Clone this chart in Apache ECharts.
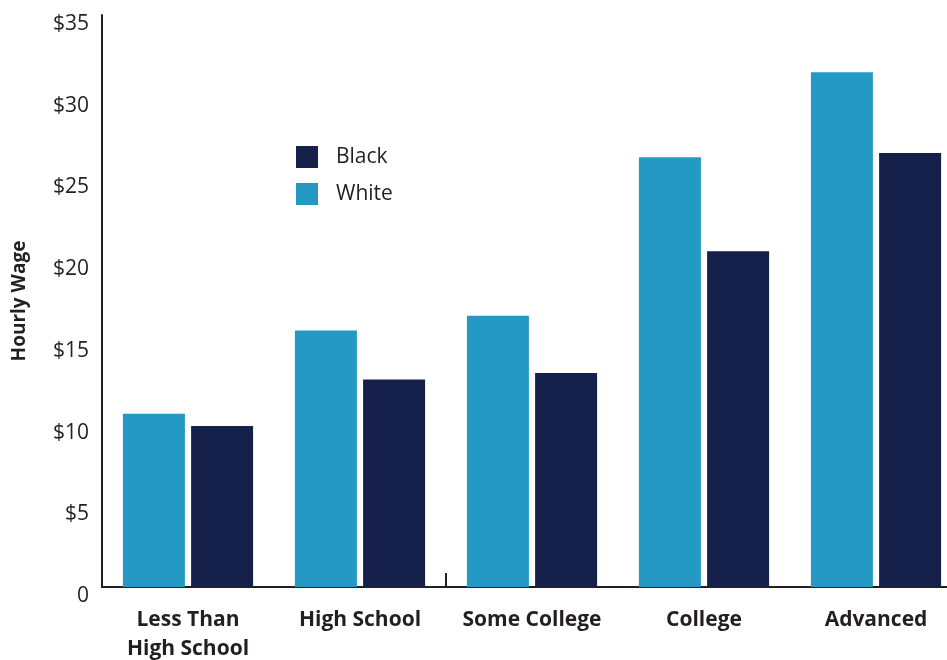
<!DOCTYPE html>
<html>
<head>
<meta charset="utf-8">
<script src="https://cdn.jsdelivr.net/npm/echarts@6/dist/echarts.min.js"></script>
<style>
html,body{margin:0;padding:0;background:#fff;}
#chart{width:947px;height:660px;}
</style>
</head>
<body>
<div id="chart"></div>
<script>
const categories = ['Less Than\nHigh School', 'High School', 'Some College', 'College', 'Advanced'];
const whiteWages = [10.6, 15.7, 16.6, 26.3, 31.5];
const blackWages = [9.85, 12.7, 13.1, 20.55, 26.55];
const yTicks = [0, 5, 10, 15, 20, 25, 30, 35];

const FONT = '"Open Sans", "Noto Sans", sans-serif';
const TEXT = '#231f20';

const chart = echarts.init(document.getElementById('chart'), null, {renderer: 'canvas'});
chart.setOption({
  animation: false,
  backgroundColor: '#fff',
  grid: {left: 102, top: 15, bottom: 73, width: 860, containLabel: false, outerBoundsMode: 'none'},
  legend: {
    data: ['Black', 'White'],
    orient: 'vertical',
    left: 296, top: 146,
    padding: 0,
    itemWidth: 22, itemHeight: 22, itemGap: 15,
    icon: 'rect',
    textStyle: {fontFamily: FONT, fontSize: 21, color: TEXT, padding: [2, 0, 0, 13]}
  },
  xAxis: {
    type: 'category',
    data: categories,
    boundaryGap: true,
    axisLine: {lineStyle: {color: TEXT, width: 2}},
    axisTick: {show: true, inside: true, length: 14, interval: function (i) { return i === 0 || i === 2; }, lineStyle: {color: TEXT, width: 2}},
    axisLabel: {fontFamily: FONT, fontSize: 21, fontWeight: 'bold', color: TEXT, margin: 19, lineHeight: 29, interval: 0}
  },
  yAxis: {
    type: 'value',
    min: 0, max: 35, interval: 5,
    name: 'Hourly Wage',
    nameLocation: 'middle',
    nameGap: 73,
    nameRotate: 90,
    nameTextStyle: {fontFamily: FONT, fontSize: 19, fontWeight: 'bold', color: TEXT},
    axisLine: {show: true, lineStyle: {color: TEXT, width: 2}},
    axisTick: {show: false},
    splitLine: {show: false},
    axisLabel: {
      fontFamily: FONT, fontSize: 21, color: TEXT, margin: 13,
      verticalAlign: 'top', lineHeight: 18,
      formatter: function (v) { return yTicks.indexOf(v) >= 0 ? (v === 0 ? '0' : '$' + v) : ''; }
    }
  },
  series: [
    {name: 'White', type: 'bar', data: whiteWages, barWidth: 62, barGap: '10%', itemStyle: {color: '#2399c3'}},
    {name: 'Black', type: 'bar', data: blackWages, barWidth: 62, barGap: '10%', itemStyle: {color: '#16214b'}}
  ]
});
</script>
</body>
</html>
